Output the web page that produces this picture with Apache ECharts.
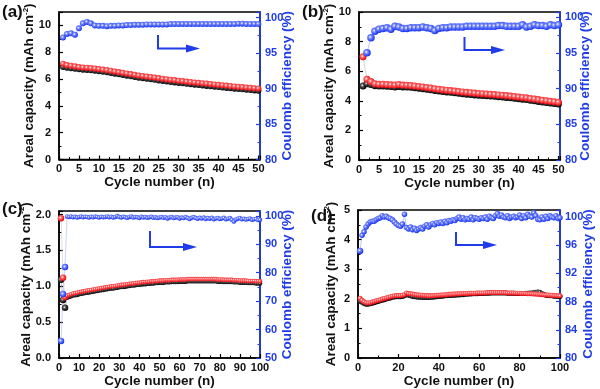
<!DOCTYPE html>
<html><head><meta charset="utf-8">
<script src="https://cdn.jsdelivr.net/npm/echarts@6/dist/echarts.min.js"></script>
<style>html,body{margin:0;padding:0;background:#fff}#c{width:600px;height:389px}</style>
</head><body><div id="c"></div>
<script>
// ---------- data (cycle number = index + 1) ----------
const chargeA = [6.9,6.85,6.8,6.76,6.73,6.7,6.68,6.65,6.62,6.58,6.54,6.5,6.45,6.4,6.35,6.3,6.25,6.2,6.15,6.1,6.06,6.02,5.98,5.94,5.9,5.86,5.82,5.78,5.75,5.71,5.68,5.64,5.61,5.58,5.55,5.52,5.49,5.46,5.43,5.4,5.37,5.34,5.31,5.28,5.25,5.23,5.2,5.18,5.15,5.13];
const dischargeA = [7.15,7.05,7.0,6.95,6.9,6.87,6.85,6.82,6.79,6.75,6.71,6.67,6.62,6.57,6.52,6.47,6.42,6.37,6.32,6.27,6.23,6.19,6.15,6.11,6.07,6.03,5.99,5.95,5.92,5.88,5.85,5.81,5.78,5.75,5.72,5.69,5.66,5.63,5.6,5.57,5.54,5.51,5.48,5.45,5.42,5.4,5.37,5.35,5.32,5.3];
const ceA = [97.2,97.7,97.8,97.6,98.5,99.2,99.4,99.2,98.9,98.85,98.85,98.8,98.85,98.85,98.9,98.9,98.95,98.95,99.0,99.0,99.0,99.05,99.05,99.05,99.05,99.05,99.05,99.1,99.1,99.1,99.1,99.1,99.1,99.1,99.1,99.1,99.1,99.1,99.1,99.1,99.1,99.1,99.1,99.1,99.15,99.15,99.1,99.1,99.1,99.1];

const chargeB = [5.0,5.15,5.1,5.02,5.0,5.0,4.98,4.96,4.94,4.97,4.94,4.93,4.91,4.88,4.85,4.82,4.78,4.74,4.7,4.66,4.63,4.6,4.57,4.54,4.51,4.48,4.45,4.43,4.4,4.38,4.36,4.34,4.32,4.3,4.28,4.26,4.23,4.2,4.17,4.14,4.11,4.08,4.04,4.0,3.96,3.92,3.88,3.85,3.82,3.78];
const dischargeB = [6.97,5.45,5.3,5.15,5.12,5.12,5.1,5.08,5.06,5.1,5.06,5.05,5.03,5.0,4.97,4.94,4.9,4.86,4.82,4.78,4.75,4.72,4.69,4.66,4.63,4.6,4.57,4.55,4.52,4.5,4.48,4.46,4.44,4.42,4.4,4.38,4.35,4.32,4.29,4.26,4.23,4.2,4.16,4.12,4.08,4.04,4.0,3.97,3.94,3.9];
const ceB = [null,95.0,97.1,98.0,98.3,98.4,98.5,98.3,98.7,98.6,98.4,98.4,98.5,98.5,98.5,98.6,98.5,98.4,98.1,98.4,98.5,98.5,98.6,98.6,98.6,98.6,98.7,98.7,98.7,98.7,98.7,98.7,98.7,98.7,98.8,98.8,98.7,98.7,98.7,98.7,98.9,98.6,98.7,98.9,98.8,98.8,98.7,98.9,98.8,98.9];

const chargeC = [1.09,0.81,0.70,0.84,0.85,0.86,0.87,0.875,0.88,0.89,0.895,0.9,0.905,0.91,0.915,0.92,0.925,0.93,0.935,0.94,0.945,0.95,0.955,0.96,0.965,0.97,0.97,0.975,0.98,0.985,0.99,0.99,0.995,1.0,1.005,1.01,1.01,1.015,1.02,1.02,1.025,1.03,1.03,1.035,1.035,1.04,1.04,1.045,1.045,1.05,1.05,1.05,1.055,1.055,1.055,1.06,1.06,1.06,1.06,1.065,1.065,1.065,1.065,1.07,1.07,1.07,1.07,1.07,1.07,1.07,1.07,1.07,1.07,1.07,1.07,1.07,1.07,1.07,1.065,1.065,1.065,1.06,1.06,1.06,1.06,1.06,1.055,1.055,1.055,1.05,1.05,1.05,1.05,1.045,1.045,1.045,1.045,1.04,1.04,1.04];
const dischargeC = [1.95,1.12,0.85,0.87,0.88,0.89,0.9,0.905,0.91,0.92,0.925,0.93,0.935,0.94,0.945,0.95,0.955,0.96,0.965,0.97,0.975,0.98,0.985,0.99,0.995,1.0,1.0,1.005,1.01,1.015,1.02,1.02,1.025,1.03,1.035,1.04,1.04,1.045,1.05,1.05,1.055,1.06,1.06,1.065,1.065,1.07,1.07,1.075,1.075,1.08,1.08,1.08,1.085,1.085,1.085,1.09,1.09,1.09,1.09,1.095,1.095,1.095,1.095,1.1,1.1,1.1,1.1,1.1,1.1,1.1,1.1,1.1,1.1,1.1,1.1,1.1,1.1,1.1,1.095,1.095,1.095,1.09,1.09,1.09,1.09,1.09,1.085,1.085,1.085,1.08,1.08,1.08,1.08,1.075,1.075,1.075,1.075,1.07,1.07,1.07];
const ceC = [56.0,72.5,82.0,99.8,99.6,99.8,99.5,99.7,99.4,99.6,99.8,99.5,99.7,99.6,99.4,99.7,99.5,99.8,99.6,99.4,99.7,99.5,99.6,99.8,99.5,99.7,99.4,99.6,99.9,99.6,99.4,99.7,99.5,99.3,99.6,99.8,99.4,99.6,99.5,99.2,99.7,99.4,99.6,99.3,99.5,99.7,99.3,99.5,99.2,99.4,99.6,99.3,99.5,99.1,99.4,99.6,99.2,99.4,99.5,99.1,99.4,99.2,99.6,99.2,98.9,99.3,99.6,99.2,99.0,99.3,99.1,99.4,98.9,99.2,99.0,99.3,98.8,99.1,99.2,98.9,99.1,99.3,98.8,99.0,99.2,98.6,98.0,98.7,99.0,99.2,98.8,99.0,98.7,98.9,99.1,98.6,98.8,98.9,98.5,98.6];

const chargeD = [1.92,1.88,1.84,1.82,1.82,1.83,1.85,1.87,1.89,1.91,1.93,1.95,1.97,1.99,2.01,2.03,2.05,2.06,2.07,2.07,2.07,2.08,2.1,2.15,2.12,2.1,2.08,2.07,2.06,2.05,2.05,2.04,2.04,2.04,2.04,2.05,2.05,2.06,2.07,2.08,2.09,2.09,2.1,2.1,2.11,2.11,2.12,2.12,2.13,2.13,2.14,2.14,2.15,2.15,2.16,2.16,2.17,2.17,2.17,2.18,2.18,2.18,2.19,2.19,2.19,2.2,2.2,2.2,2.2,2.2,2.2,2.2,2.2,2.19,2.19,2.19,2.19,2.18,2.18,2.18,2.18,2.18,2.19,2.19,2.2,2.2,2.21,2.22,2.23,2.22,2.18,2.15,2.12,2.11,2.1,2.1,2.09,2.09,2.08,2.08];
const dischargeD = [2.02,1.95,1.9,1.87,1.86,1.87,1.89,1.91,1.93,1.95,1.97,1.99,2.01,2.03,2.05,2.07,2.09,2.1,2.11,2.11,2.11,2.12,2.14,2.2,2.18,2.17,2.16,2.15,2.14,2.13,2.12,2.12,2.11,2.11,2.1,2.1,2.11,2.11,2.12,2.12,2.13,2.13,2.14,2.14,2.15,2.15,2.16,2.16,2.17,2.17,2.17,2.18,2.18,2.18,2.19,2.19,2.19,2.19,2.2,2.2,2.2,2.2,2.2,2.21,2.21,2.21,2.21,2.21,2.21,2.21,2.21,2.21,2.21,2.2,2.2,2.2,2.2,2.19,2.19,2.19,2.18,2.18,2.18,2.17,2.17,2.17,2.16,2.16,2.15,2.15,2.14,2.14,2.13,2.13,2.12,2.12,2.11,2.11,2.1,2.1];
const ceD = [95.2,97.4,97.9,98.6,99.0,99.3,99.4,99.4,99.6,99.8,99.9,100.2,100.0,100.1,99.9,99.8,99.6,99.3,99.0,98.8,98.7,99.0,100.4,98.5,98.3,98.6,98.2,98.4,98.1,98.3,98.5,98.3,98.7,98.9,98.6,98.9,99.1,98.9,99.2,99.1,99.3,99.1,99.4,99.2,99.5,99.4,99.6,99.5,99.8,100.0,99.7,99.9,99.6,99.8,99.7,100.0,99.6,99.9,99.8,99.7,99.9,99.8,100.0,99.7,100.1,99.9,99.8,100.2,100.5,100.1,100.3,100.0,99.9,100.2,99.8,100.0,100.1,99.9,100.0,100.3,99.8,100.2,99.9,100.4,100.1,100.0,100.6,100.2,99.7,99.6,100.0,99.7,100.1,99.8,100.2,100.0,99.9,100.2,99.8,99.9];

const panelLabels = ['(a)','(b)','(c)','(d)'];
const xTitle = 'Cycle number (n)';
const rightTitle = 'Coulomb efficiency (%)';

// ---------- styling ----------
const BLUE = '#1f3ce8';
const FONT = 'Liberation Sans, Arial, sans-serif';
const pts = arr => arr.map((v, i) => [i + 1, v]);
function grad(edge, mid) {
  return {type:'radial', x:0.4, y:0.4, r:0.6, colorStops:[
    {offset:0, color:'#ffffff'}, {offset:0.35, color:mid}, {offset:1, color:edge}]};
}
const RED_FILL = grad('#e8000a', '#ff6b6b');
const BLK_FILL = grad('#000000', '#555555');
const BLU_FILL = grad('#1430f0', '#7a8cff');

function lab(interval, dec) {
  return v => {
    const k = v / interval;
    return Math.abs(k - Math.round(k)) < 1e-6 ? v.toFixed(dec) : '';
  };
}
const grids = [
  {left:59, top:12, width:201, height:147.5},
  {left:359, top:12, width:201, height:148},
  {left:59, top:211, width:201, height:148},
  {left:358, top:210, width:202, height:148.3}
].map(g => Object.assign(g, {show:true, borderColor:'#000', borderWidth:1.5, backgroundColor:'transparent'}));

function xAx(gi, max, interval) {
  return {gridIndex:gi, type:'value', min:0, max, interval,
    axisLine:{onZero:false, lineStyle:{color:'#000', width:1.5}},
    axisTick:{inside:true, length:4, lineStyle:{color:'#000', width:1.2}},
    minorTick:{show:true, splitNumber:2, length:2.5, lineStyle:{color:'#000', width:1}},
    splitLine:{show:false},
    axisLabel:{formatter:lab(interval,0), color:'#111', fontWeight:'bold', fontSize:11, fontFamily:FONT, margin:4, showMaxLabel:true},
    name:xTitle, nameLocation:'middle', nameGap:16, nameMoveOverlap:false,
    nameTextStyle:{color:'#111', fontWeight:'bold', fontSize:13.5, fontFamily:FONT}};
}
function yL(gi, max, interval, dec, gap) {
  return {gridIndex:gi, type:'value', position:'left', min:0, max, interval,
    axisLine:{show:true, onZero:false, lineStyle:{color:'#000', width:1.5}},
    axisTick:{show:true, inside:true, length:4, lineStyle:{color:'#000', width:1.2}},
    minorTick:{show:true, splitNumber:2, length:2.5, lineStyle:{color:'#000', width:1}},
    splitLine:{show:false},
    axisLabel:{formatter:lab(interval,dec), color:'#111', fontWeight:'bold', fontSize:11, fontFamily:FONT, margin:8},
    name:'{a|Areal capacity (mAh cm}{s|-2}{a|)}', nameLocation:'middle', nameGap:gap, nameRotate:90, nameMoveOverlap:false,
    nameTextStyle:{rich:{
      a:{color:'#111', fontWeight:'bold', fontSize:13.5, fontFamily:FONT},
      s:{color:'#111', fontWeight:'bold', fontSize:8, fontFamily:FONT, padding:[0,0,8,0]}}}};
}
function yR(gi, min, max, interval, gap) {
  return {gridIndex:gi, type:'value', position:'right', min, max, interval,
    axisLine:{show:true, onZero:false, lineStyle:{color:BLUE, width:1.5}},
    axisTick:{show:true, inside:true, length:4, lineStyle:{color:BLUE, width:1.2}},
    minorTick:{show:true, splitNumber:2, length:2.5, lineStyle:{color:BLUE, width:1}},
    splitLine:{show:false},
    axisLabel:{formatter:lab(interval,0), color:BLUE, fontWeight:'bold', fontSize:11, fontFamily:FONT, margin:5},
    name:rightTitle, nameLocation:'middle', nameGap:gap, nameRotate:90, nameMoveOverlap:false,
    nameTextStyle:{color:BLUE, fontWeight:'bold', fontSize:13.5, fontFamily:FONT}};
}

const xAxes = [xAx(0,50.4,5), xAx(1,50.4,5), xAx(2,100,10), xAx(3,100,20)];
const yAxes = [
  yL(0,11,2,0,21.5), yR(0,80,100.8,5,20),
  yL(1,10,2,0,21.5), yR(1,80,100.7,5,18.5),
  yL(2,2.05,0.5,1,25), yR(2,50,101.7,10,20),
  yL(3,5,1,0,19), yR(3,80,101,4,21)
];

function sc(name, data, gi, yi, fill, size, lineColor) {
  return {name, type:'line', xAxisIndex:gi, yAxisIndex:yi, data:pts(data),
    symbol:'circle', symbolSize:size, showSymbol:true, connectNulls:false,
    lineStyle:{width:0.8, color:lineColor, opacity:0.8},
    itemStyle:{color:fill, borderWidth:0}, animation:false, clip:true};
}
const bigFirst = (n, s1, s2) => (v, p) => p.dataIndex < n ? s1 : s2;
const series = [
  sc('chargeA', chargeA, 0, 0, BLK_FILL, 6, '#999'),
  sc('dischargeA', dischargeA, 0, 0, RED_FILL, 6, '#f99'),
  sc('ceA', ceA, 0, 1, BLU_FILL, 6, '#99a8f5'),
  sc('chargeB', chargeB, 1, 2, BLK_FILL, 7, '#aaa'),
  sc('dischargeB', dischargeB, 1, 2, RED_FILL, 7, '#bbb'),
  sc('ceB', ceB, 1, 3, BLU_FILL, 7.5, '#99a8f5'),
  sc('chargeC', chargeC, 2, 4, BLK_FILL, bigFirst(3,6.5,4.5), '#aaa'),
  sc('dischargeC', dischargeC, 2, 4, RED_FILL, bigFirst(3,6.5,4.5), '#ccc'),
  sc('ceC', ceC, 2, 5, BLU_FILL, bigFirst(3,6.5,4.5), '#b0bcf5'),
  sc('chargeD', chargeD, 3, 6, BLK_FILL, 5, '#999'),
  sc('dischargeD', dischargeD, 3, 6, RED_FILL, 5, '#f99'),
  sc('ceD', ceD, 3, 7, BLU_FILL, bigFirst(1,6.5,5.5), '#99a8f5')
];

// arrows pointing to right axis + panel labels
const arrowDefs = [
  {x:158, y1:35, y2:48.5, x2:200},
  {x:464.5, y1:37, y2:50, x2:505},
  {x:150, y1:231, y2:247, x2:197},
  {x:456, y1:232, y2:245, x2:497}
];
const graphics = [];
arrowDefs.forEach(a => {
  graphics.push({type:'polyline', shape:{points:[[a.x,a.y1],[a.x,a.y2],[a.x2-12,a.y2]]},
    style:{stroke:BLUE, lineWidth:2, fill:null}, z:10});
  graphics.push({type:'polygon', shape:{points:[[a.x2-14,a.y2-4],[a.x2,a.y2],[a.x2-14,a.y2+4]]},
    style:{fill:BLUE}, z:10});
});
const labelPos = [[2,4],[302,4],[2,201],[311,208]];
panelLabels.forEach((t, i) => graphics.push({type:'text', left:labelPos[i][0], top:labelPos[i][1],
  style:{text:t, fill:'#111', font:'bold 17px ' + FONT}, z:10}));

const chart = echarts.init(document.getElementById('c'));
chart.setOption({animation:false, backgroundColor:'#fff', grid:grids, xAxis:xAxes, yAxis:yAxes, series, graphic:graphics});
</script></body></html>
